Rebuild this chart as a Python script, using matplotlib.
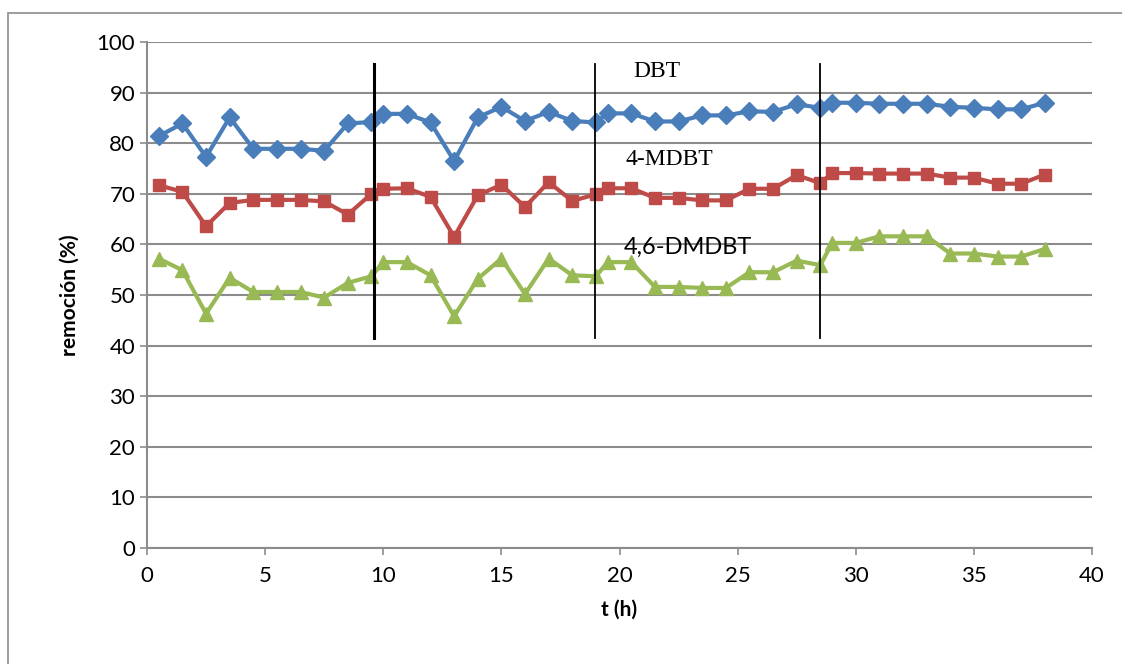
import numpy as np
import matplotlib.pyplot as plt
from matplotlib.patches import Rectangle

t = [0.5, 1.5, 2.5, 3.5, 4.5, 5.5, 6.5, 7.5, 8.5, 9.5,
     10, 11, 12, 13, 14, 15, 16, 17, 18, 19,
     19.5, 20.5, 21.5, 22.5, 23.5, 24.5, 25.5, 26.5, 27.5, 28.5,
     29, 30, 31, 32, 33, 34, 35, 36, 37, 38]

dbt = [81.4, 83.9, 77.3, 85.1, 78.9, 78.9, 78.9, 78.5, 83.9, 84.2,
       85.8, 85.8, 84.1, 76.5, 85.1, 87.2, 84.4, 86.2, 84.4, 84.1,
       85.9, 85.9, 84.3, 84.3, 85.5, 85.5, 86.3, 86.2, 87.7, 87.0,
       88.0, 88.0, 87.8, 87.8, 87.8, 87.2, 87.0, 86.7, 86.7, 88.0]

mdbt = [71.7, 70.4, 63.6, 68.2, 68.8, 68.8, 68.8, 68.5, 65.9, 70.0,
        71.0, 71.1, 69.4, 61.5, 69.7, 71.8, 67.4, 72.3, 68.6, 69.9,
        71.1, 71.1, 69.2, 69.2, 68.7, 68.7, 71.0, 71.0, 73.7, 72.1,
        74.1, 74.1, 74.0, 74.0, 74.0, 73.2, 73.2, 72.0, 72.0, 73.8]

dmdbt = [57.2, 54.9, 46.3, 53.4, 50.6, 50.6, 50.6, 49.5, 52.4, 53.7,
         56.5, 56.5, 53.9, 45.8, 53.2, 57.2, 50.2, 57.2, 53.9, 53.7,
         56.5, 56.5, 51.6, 51.6, 51.4, 51.4, 54.5, 54.5, 56.8, 55.9,
         60.3, 60.3, 61.6, 61.6, 61.6, 58.2, 58.2, 57.6, 57.6, 59.1]

cuts = [9.6, 18.95, 28.5]
cut_widths = [2.2, 1.3, 1.3]

plt.rcParams['font.family'] = ['Lato', 'DejaVu Sans']

fig = plt.figure(figsize=(11.22, 6.64), dpi=100)
ax = fig.add_axes([0.131, 0.1747, 0.8423, 0.762])

# outer chart border (left and top visible)
fig.patches.append(Rectangle((8/1122, -0.1), 1.2, 1 - 13/664 + 0.1,
                             transform=fig.transFigure, fill=False,
                             edgecolor='#8c8c8c', linewidth=1.2))

ax.grid(axis='y', color='#8c8c8c', linewidth=1.5)
ax.set_axisbelow(True)

ax.plot(t, dbt, '-D', color='#4a7ebb', lw=3, ms=9, zorder=3)
ax.plot(t, mdbt, '-s', color='#be4b48', lw=3, ms=9, zorder=3)
ax.plot(t, dmdbt, '-^', color='#98b954', lw=3, ms=10, zorder=3)

for c, w in zip(cuts, cut_widths):
    ax.plot([c, c], [41.5, 95.6], color='black', lw=w, zorder=4)

ax.text(21.6, 94.2, 'DBT', family='Liberation Serif', fontsize=17, ha='center', va='center')
ax.text(22.1, 76.7, '4-MDBT', family='Liberation Serif', fontsize=17, ha='center', va='center')
ax.text(22.9, 59.4, '4,6-DMDBT', fontsize=17, ha='center', va='center')

ax.set_xlim(0, 40)
ax.set_ylim(0, 100)
ax.set_xticks(np.arange(0, 41, 5))
ax.set_yticks(np.arange(0, 101, 10))
ax.tick_params(labelsize=16, color='#8c8c8c', length=5, width=1.2)
ax.tick_params(axis='x', pad=8)

for s in ['top', 'right']:
    ax.spines[s].set_visible(False)
for s in ['left', 'bottom']:
    ax.spines[s].set_color('#8c8c8c')
    ax.spines[s].set_linewidth(1.5)

ax.set_xlabel('t (h)', fontsize=15, fontweight='bold', labelpad=10)
ax.set_ylabel('remoción (%)', fontsize=15, fontweight='bold', labelpad=12)

fig.savefig('out.png', dpi=100)
